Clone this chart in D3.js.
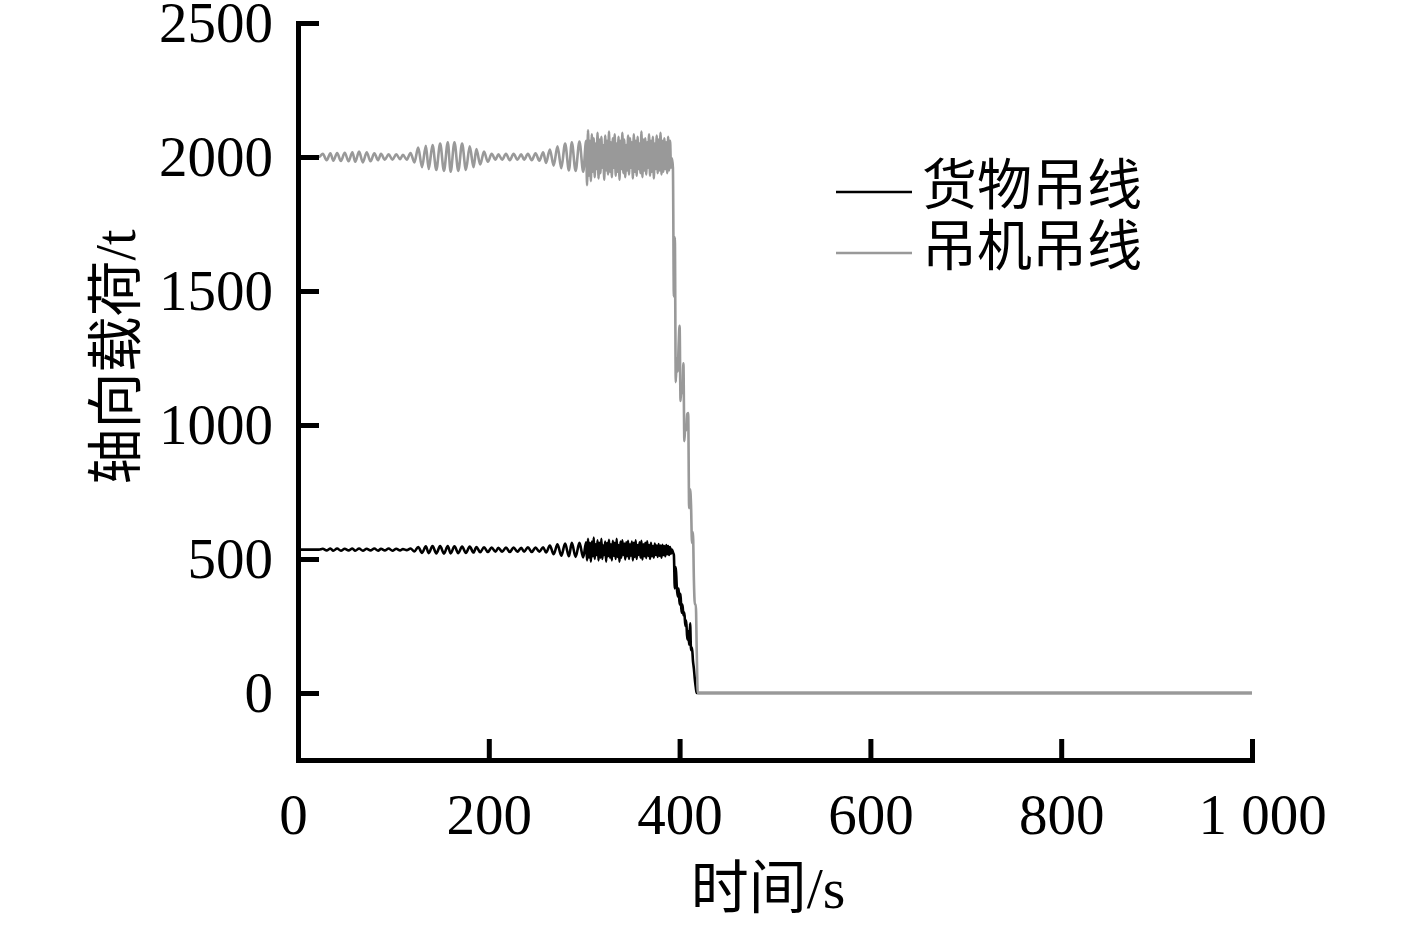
<!DOCTYPE html>
<html>
<head>
<meta charset="utf-8">
<script src="https://cdn.jsdelivr.net/npm/d3@7/dist/d3.min.js"></script>
<style>
  html, body { margin: 0; padding: 0; background: #fff; }
  svg text { font-family: "Liberation Serif", "Noto Sans CJK SC", serif; fill: #000; }
</style>
</head>
<body>
<svg id="chart" width="1417" height="925"></svg>
<script>
// ---- data ----
const time = [
  0, 22, 26, 30, 34, 37, 41, 45, 49, 53,
  57, 60, 64, 68, 72, 76, 80, 84, 87, 91,
  95, 99, 103, 107, 110, 114, 118, 122, 126, 130,
  134, 137, 141, 145, 149, 153, 157, 160, 164, 168,
  172, 176, 180, 184, 187, 191, 195, 199, 203, 207,
  210, 214, 218, 222, 226, 230, 234, 237, 241, 245,
  249, 253, 257, 260, 264, 268, 272, 276, 280, 284,
  287, 291, 295, 299, 302, 303, 304, 305, 306, 307,
  308, 309, 310, 311, 312, 313, 314, 315, 316, 317,
  318, 319, 320, 321, 322, 323, 324, 325, 326, 327,
  328, 329, 330, 331, 332, 333, 334, 335, 336, 337,
  338, 339, 340, 341, 342, 343, 344, 345, 346, 347,
  348, 349, 350, 351, 352, 353, 354, 355, 356, 357,
  358, 359, 360, 361, 362, 363, 364, 365, 366, 367,
  368, 369, 370, 371, 372, 373, 374, 375, 376, 377,
  378, 379, 380, 381, 382, 383, 384, 385, 386, 387,
  388, 389, 390, 391, 392, 393, 394, 395, 396, 397,
  398, 399, 400, 401, 402, 403, 404, 405, 406, 407,
  408, 409, 410, 411, 412, 413, 414, 415, 416, 417,
  418, 419, 420, 1000
];
// 吊机吊线 (crane line)
const craneLoad = [
  2000, 2000, 2012, 1988, 2014, 1986, 2015, 1985, 2016, 1984,
  2018, 1982, 2020, 1980, 2018, 1984, 2014, 1988, 2012, 1990,
  2010, 1990, 2010, 1992, 2008, 1990, 2015, 1980, 2035, 1962,
  2042, 1955, 2045, 1952, 2050, 1948, 2055, 1945, 2055, 1948,
  2050, 1952, 2040, 1962, 2030, 1972, 2020, 1982, 2012, 1990,
  2010, 1990, 2012, 1988, 2012, 1990, 2010, 1990, 2012, 1988,
  2014, 1986, 2018, 1978, 2028, 1968, 2040, 1958, 2050, 1950,
  2055, 1948, 2058, 1945, 2060, 1895, 2100, 1930, 2060, 1910,
  2085, 1945, 2070, 1925, 2050, 1955, 2090, 1920, 2065, 1940,
  2075, 1960, 2045, 1915, 2080, 1950, 2060, 1935, 2095, 1945,
  2055, 1925, 2070, 1960, 2085, 1930, 2050, 1945, 2075, 1915,
  2060, 1955, 2090, 1940, 2065, 1925, 2045, 1950, 2080, 1935,
  2070, 1960, 2055, 1920, 2085, 1945, 2060, 1930, 2075, 1955,
  2050, 1940, 2095, 1925, 2065, 1950, 2070, 1935, 2055, 1960,
  2085, 1930, 2060, 1945, 2075, 1920, 2050, 1955, 2080, 1940,
  2065, 1950, 2090, 1935, 2060, 1945, 2070, 1955, 2055, 1940,
  2075, 1950, 2060, 1960, 1995, 1960, 1480, 1700, 1160, 1250,
  1200, 1300, 1370, 1090, 1150, 1120, 1230, 940, 1000, 980,
  1040, 1045, 690, 760, 700, 560, 600, 420, 330, 330,
  150, 0, 0, 0
];
// 货物吊线 (cargo line)
const cargoLoad = [
  535, 535, 538, 532, 539, 531, 539, 531, 538, 532,
  539, 531, 539, 531, 538, 532, 539, 531, 538, 532,
  539, 531, 538, 532, 537, 533, 539, 528, 545, 523,
  547, 522, 548, 521, 548, 520, 548, 521, 547, 522,
  546, 523, 546, 524, 545, 525, 544, 526, 543, 527,
  542, 527, 543, 526, 543, 527, 542, 527, 544, 526,
  543, 527, 544, 524, 550, 518, 555, 512, 558, 510,
  560, 508, 560, 506, 562, 495, 575, 505, 560, 490,
  565, 510, 580, 500, 555, 515, 570, 495, 560, 505,
  575, 500, 550, 515, 565, 490, 560, 510, 572, 505,
  555, 495, 568, 512, 560, 500, 575, 508, 552, 490,
  565, 505, 570, 515, 558, 498, 562, 510, 568, 500,
  555, 512, 565, 495, 560, 508, 570, 500, 552, 515,
  562, 505, 568, 498, 555, 510, 560, 503, 566, 512,
  552, 500, 560, 510, 548, 505, 558, 515, 550, 508,
  556, 512, 550, 505, 553, 515, 548, 510, 552, 518,
  548, 515, 545, 520, 535, 525, 515, 390, 470, 400,
  360, 390, 330, 370, 300, 330, 290, 300, 250, 270,
  200, 230, 180, 260, 160, 170, 120, 90, 50, 20,
  0, 0, 0, 0
];
const seriesNames = ["货物吊线", "吊机吊线"];
const seriesColors = ["#000000", "#999999"];
const xTicks = [0, 200, 400, 600, 800, 1000];
const xTickLabels = ["0", "200", "400", "600", "800", "1 000"];
const yTicks = [0, 500, 1000, 1500, 2000, 2500];
const yTickLabels = ["0", "500", "1000", "1500", "2000", "2500"];
const xTitle = "时间/s";
const yTitle = "轴向载荷/t";

// ---- chart ----
const svg = d3.select("#chart");
const x = d3.scaleLinear().domain([0, 1000]).range([298, 1252]);
const y = d3.scaleLinear().domain([-250, 2500]).range([760, 23]);

const line = d3.line()
  .defined(d => d[1] != null)
  .x(d => x(d[0]))
  .y(d => y(d[1]))
  .curve(d3.curveMonotoneX);

const cargoData = time.map((t, i) => [t, cargoLoad[i]]);
const craneData = time.map((t, i) => [t, craneLoad[i]]);

svg.append("path").datum(cargoData)
  .attr("d", line).attr("fill", "none")
  .attr("stroke", seriesColors[0]).attr("stroke-width", 2.6).attr("stroke-linejoin", "round");
svg.append("path").datum(craneData)
  .attr("d", line).attr("fill", "none")
  .attr("stroke", seriesColors[1]).attr("stroke-width", 2.6).attr("stroke-linejoin", "round");

// axes
const yAxis = d3.axisLeft(y).tickValues(yTicks).tickFormat((d, i) => yTickLabels[i])
  .tickSizeInner(-21).tickSizeOuter(0).tickPadding(25);
const gy = svg.append("g").attr("transform", "translate(298,0)").call(yAxis);
const xAxis = d3.axisBottom(x).tickValues(xTicks).tickFormat((d, i) => xTickLabels[i])
  .tickSizeInner(-21).tickSizeOuter(0).tickPadding(34);
const gx = svg.append("g").attr("transform", "translate(0,760)").call(xAxis);

[gx, gy].forEach(g => {
  g.select(".domain").attr("stroke", "#000").attr("stroke-width", 5).attr("stroke-linecap", "square");
  g.selectAll(".tick line").attr("stroke", "#000").attr("stroke-width", 5);
  g.selectAll(".tick text").attr("font-size", 57).attr("font-family", "Liberation Serif").attr("fill", "#000");
});
// small label nudges to match reference placement
gx.selectAll(".tick text").attr("dx", (d, i) => i === 0 ? -5 : (i === xTicks.length - 1 ? 10 : 0));

// axis titles
svg.append("text").attr("x", 768).attr("y", 908).attr("text-anchor", "middle")
  .attr("font-size", 58).text(xTitle);
svg.append("text").attr("transform", "translate(115,357) rotate(-90)")
  .attr("y", 20).attr("text-anchor", "middle").attr("font-size", 56).text(yTitle);

// legend
const legend = svg.append("g");
seriesNames.forEach((name, i) => {
  const yy = 192 + i * 61;
  legend.append("line").attr("x1", 836).attr("x2", 912).attr("y1", yy).attr("y2", yy)
    .attr("stroke", seriesColors[i]).attr("stroke-width", 2.4);
  legend.append("text").attr("x", 922).attr("y", 204 + i * 61)
    .attr("font-size", 55).text(name);
});
</script>
</body>
</html>
